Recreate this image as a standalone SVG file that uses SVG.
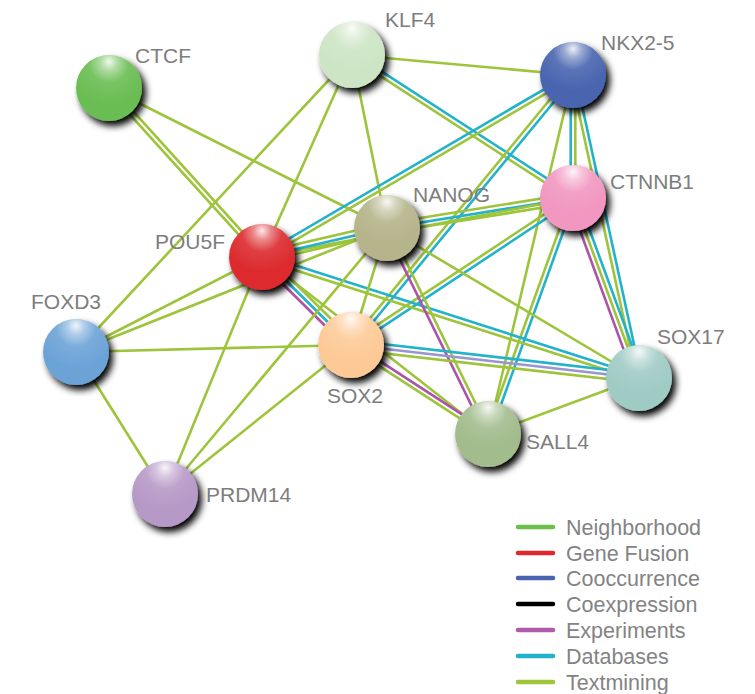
<svg xmlns="http://www.w3.org/2000/svg" width="755" height="694" viewBox="0 0 755 694">
<defs>
<style>
.t{stroke:#9dc43b;stroke-width:2.6;fill:none}
.d{stroke:#22b2c9;stroke-width:2.6;fill:none}
.e{stroke:#ac52a8;stroke-width:2.6;fill:none}
.c{stroke:#9895d0;stroke-width:2.6;fill:none}
.lbl{font-family:"Liberation Sans",Arial,Helvetica,sans-serif;font-size:21px;fill:#7d7d7d}
.lg{font-family:"Liberation Sans",Arial,Helvetica,sans-serif;font-size:21.5px;fill:#838383}
.ll{stroke-width:4.5;stroke-linecap:round}
.hl{fill:url(#hl)}
.base{filter:url(#sh)}
</style>
<radialGradient id="hl" cx="0.5" cy="0.14" r="0.6" fx="0.5" fy="0.1">
<stop offset="0" stop-color="#fff" stop-opacity="0.9"/>
<stop offset="0.22" stop-color="#fff" stop-opacity="0.45"/>
<stop offset="0.5" stop-color="#fff" stop-opacity="0.1"/>
<stop offset="1" stop-color="#fff" stop-opacity="0"/>
</radialGradient>
<filter id="sh" x="-40%" y="-40%" width="190%" height="190%">
<feDropShadow dx="4" dy="5" stdDeviation="3.5" flood-color="#000" flood-opacity="1"/>
</filter>
</defs>
<rect width="755" height="694" fill="#fff"/>
<g id="edges">
<line class="t" x1="107.3" y1="89.54" x2="260.3" y2="258.54"/>
<line class="t" x1="110.7" y1="86.46" x2="263.7" y2="255.46"/>
<line class="t" x1="109" y1="88" x2="387" y2="228"/>
<line class="t" x1="352" y1="55" x2="76" y2="352"/>
<line class="t" x1="352" y1="55" x2="262" y2="257"/>
<line class="t" x1="352" y1="55" x2="387" y2="228"/>
<line class="t" x1="352" y1="55" x2="573" y2="75"/>
<line class="d" x1="353.25" y1="53.07" x2="574.25" y2="196.07"/>
<line class="t" x1="350.75" y1="56.93" x2="571.75" y2="199.93"/>
<line class="d" x1="571.84" y1="73.01" x2="260.84" y2="255.01"/>
<line class="t" x1="574.16" y1="76.99" x2="263.16" y2="258.99"/>
<line class="t" x1="571.22" y1="73.54" x2="349.22" y2="343.54"/>
<line class="d" x1="574.78" y1="76.46" x2="352.78" y2="346.46"/>
<line class="d" x1="570.7" y1="75" x2="570.7" y2="198"/>
<line class="t" x1="575.3" y1="75" x2="575.3" y2="198"/>
<line class="t" x1="573" y1="75" x2="488" y2="434"/>
<line class="t" x1="570.75" y1="75.49" x2="636.75" y2="378.49"/>
<line class="d" x1="575.25" y1="74.51" x2="641.25" y2="377.51"/>
<line class="t" x1="572.27" y1="193.46" x2="386.27" y2="223.46"/>
<line class="d" x1="573" y1="198" x2="387" y2="228"/>
<line class="t" x1="573.73" y1="202.54" x2="387.73" y2="232.54"/>
<line class="t" x1="571.73" y1="196.08" x2="349.73" y2="343.08"/>
<line class="d" x1="574.27" y1="199.92" x2="352.27" y2="346.92"/>
<line class="t" x1="570.84" y1="197.22" x2="485.84" y2="433.22"/>
<line class="d" x1="575.16" y1="198.78" x2="490.16" y2="434.78"/>
<line class="e" x1="568.68" y1="199.58" x2="634.68" y2="379.58"/>
<line class="t" x1="573" y1="198" x2="639" y2="378"/>
<line class="d" x1="577.32" y1="196.42" x2="643.32" y2="376.42"/>
<line class="t" x1="262" y1="257" x2="573" y2="198"/>
<line class="t" x1="260.96" y1="252.52" x2="385.96" y2="223.52"/>
<line class="d" x1="262" y1="257" x2="387" y2="228"/>
<line class="t" x1="263.04" y1="261.48" x2="388.04" y2="232.48"/>
<line class="e" x1="258.77" y1="260.27" x2="347.77" y2="348.27"/>
<line class="d" x1="262" y1="257" x2="351" y2="345"/>
<line class="t" x1="265.23" y1="253.73" x2="354.23" y2="341.73"/>
<line class="d" x1="262.7" y1="254.81" x2="639.7" y2="375.81"/>
<line class="t" x1="261.3" y1="259.19" x2="638.3" y2="380.19"/>
<line class="t" x1="262" y1="257" x2="488" y2="434"/>
<line class="t" x1="262" y1="257" x2="76" y2="352"/>
<line class="t" x1="262" y1="257" x2="165" y2="494"/>
<line class="t" x1="76" y1="352" x2="387" y2="228"/>
<line class="t" x1="76" y1="352" x2="351" y2="345"/>
<line class="t" x1="76" y1="352" x2="165" y2="494"/>
<line class="t" x1="165" y1="494" x2="387" y2="228"/>
<line class="t" x1="165" y1="494" x2="351" y2="345"/>
<line class="t" x1="387" y1="228" x2="351" y2="345"/>
<line class="e" x1="384.93" y1="229.01" x2="485.93" y2="435.01"/>
<line class="t" x1="389.07" y1="226.99" x2="490.07" y2="432.99"/>
<line class="t" x1="387" y1="228" x2="639" y2="378"/>
<line class="d" x1="351.52" y1="340.43" x2="639.52" y2="373.43"/>
<line class="c" x1="351" y1="345" x2="639" y2="378"/>
<line class="t" x1="350.48" y1="349.57" x2="638.48" y2="382.57"/>
<line class="e" x1="352.25" y1="343.07" x2="489.25" y2="432.07"/>
<line class="t" x1="349.75" y1="346.93" x2="486.75" y2="435.93"/>
<line class="t" x1="488" y1="434" x2="639" y2="378"/>
</g>
<g id="CTCF"><circle class="base" cx="109" cy="88" r="33" fill="#6abd52"/><circle class="hl" cx="109" cy="88" r="33"/><text class="lbl" x="135" y="63">CTCF</text></g>
<g id="KLF4"><circle class="base" cx="352" cy="55" r="33" fill="#cde5c5"/><circle class="hl" cx="352" cy="55" r="33"/><text class="lbl" x="385" y="27">KLF4</text></g>
<g id="NKX2-5"><circle class="base" cx="573" cy="75" r="33" fill="#4a65b0"/><circle class="hl" cx="573" cy="75" r="33"/><text class="lbl" x="601" y="50">NKX2-5</text></g>
<g id="CTNNB1"><circle class="base" cx="573" cy="198" r="33" fill="#f197c0"/><circle class="hl" cx="573" cy="198" r="33"/><text class="lbl" x="610" y="189">CTNNB1</text></g>
<g id="NANOG"><circle class="base" cx="387" cy="228" r="33" fill="#b5b48b"/><circle class="hl" cx="387" cy="228" r="33"/><text class="lbl" x="413" y="202">NANOG</text></g>
<g id="POU5F"><circle class="base" cx="262" cy="257" r="33" fill="#dc2b2e"/><circle class="hl" cx="262" cy="257" r="33"/><text class="lbl" x="155" y="249">POU5F</text></g>
<g id="FOXD3"><circle class="base" cx="76" cy="352" r="33" fill="#6ca3d7"/><circle class="hl" cx="76" cy="352" r="33"/><text class="lbl" x="31" y="309">FOXD3</text></g>
<g id="SOX2"><circle class="base" cx="351" cy="345" r="33" fill="#fdca97"/><circle class="hl" cx="351" cy="345" r="33"/><text class="lbl" x="327" y="403">SOX2</text></g>
<g id="SALL4"><circle class="base" cx="488" cy="434" r="33" fill="#a2bc8d"/><circle class="hl" cx="488" cy="434" r="33"/><text class="lbl" x="526" y="449">SALL4</text></g>
<g id="SOX17"><circle class="base" cx="639" cy="378" r="33" fill="#a0cbc5"/><circle class="hl" cx="639" cy="378" r="33"/><text class="lbl" x="657" y="344">SOX17</text></g>
<g id="PRDM14"><circle class="base" cx="165" cy="494" r="33" fill="#b799c7"/><circle class="hl" cx="165" cy="494" r="33"/><text class="lbl" x="206" y="502">PRDM14</text></g>
<g id="legend">
<line class="ll" x1="518" y1="527" x2="553" y2="527" stroke="#6abf4b"/>
<line class="ll" x1="518" y1="553" x2="553" y2="553" stroke="#e0282e"/>
<line class="ll" x1="518" y1="578" x2="553" y2="578" stroke="#4a63b0"/>
<line class="ll" x1="518" y1="604" x2="553" y2="604" stroke="#000"/>
<line class="ll" x1="518" y1="630" x2="553" y2="630" stroke="#b05aa8"/>
<line class="ll" x1="518" y1="656" x2="553" y2="656" stroke="#21b2c8"/>
<line class="ll" x1="518" y1="682" x2="553" y2="682" stroke="#a0c53a"/>
<text class="lg" x="566" y="535">Neighborhood</text>
<text class="lg" x="566" y="561">Gene Fusion</text>
<text class="lg" x="566" y="586">Cooccurrence</text>
<text class="lg" x="566" y="612">Coexpression</text>
<text class="lg" x="566" y="638">Experiments</text>
<text class="lg" x="566" y="664">Databases</text>
<text class="lg" x="566" y="690">Textmining</text>
</g>
</svg>
